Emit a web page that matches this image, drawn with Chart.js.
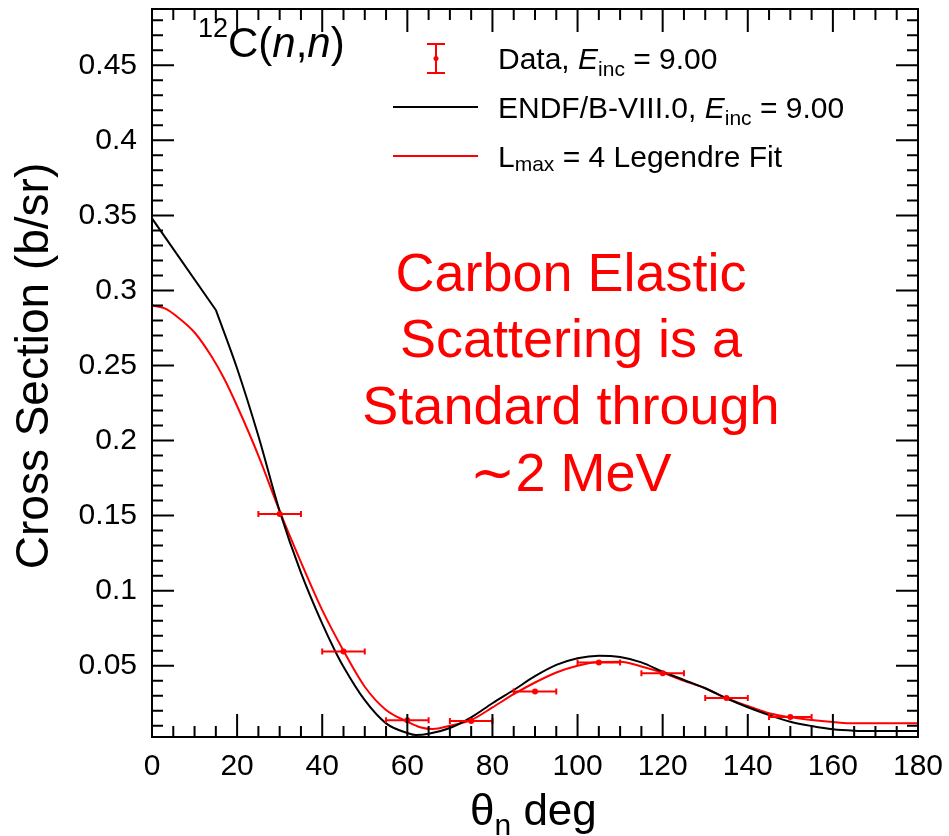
<!DOCTYPE html>
<html lang="en">
<head>
<meta charset="UTF-8">
<title>12C(n,n) at 9.00 MeV</title>
<script src="https://cdn.jsdelivr.net/npm/chart.js"></script>
<style>
  body { margin: 0; background: #fff; }
  #wrap { width: 949px; height: 836px; }
</style>
</head>
<body>
<div id="wrap"><canvas id="xsChart" width="949" height="836"></canvas></div>
<script>
// measured points
const dataAngle    = [30, 45, 60, 75, 90, 105, 120, 135, 150];
const dataXS       = [0.151, 0.0595, 0.0136, 0.0131, 0.0328, 0.0522, 0.0449, 0.0284, 0.0158];
const dataAngleErr = [5, 5, 5, 5, 5, 5, 5, 5, 5];
const dataXSErr    = [0.0008, 0.0008, 0.0008, 0.0008, 0.0008, 0.0008, 0.0008, 0.0008, 0.0008];

// ENDF/B-VIII.0 evaluation
const endfAngle = [0, 15, 20, 25, 30, 35, 40, 43, 45, 50, 55, 60, 62, 65, 70, 75, 80, 85, 90, 95, 100, 105, 110, 115, 120, 125, 130, 135, 140, 145, 150, 155, 160, 165, 170, 175, 180];
const endfXS    = [0.348, 0.287, 0.248, 0.203, 0.153, 0.112, 0.078, 0.060, 0.0493, 0.027, 0.0116, 0.0052, 0.0038, 0.0046, 0.0085, 0.0156, 0.025, 0.0338, 0.043, 0.0505, 0.055, 0.0567, 0.0558, 0.0522, 0.046, 0.0405, 0.035, 0.0283, 0.0223, 0.0171, 0.0127, 0.0098, 0.0076, 0.0067, 0.0065, 0.0065, 0.0065];

// Lmax = 4 Legendre fit
const fitAngle = [0, 3, 6, 10, 14, 17, 20, 25, 30, 35, 40, 45, 50, 55, 60, 63, 66, 70, 75, 80, 85, 90, 95, 100, 105, 110, 115, 120, 125, 130, 135, 140, 145, 150, 155, 160, 165, 170, 180];
const fitXS    = [0.290, 0.288, 0.2823, 0.272, 0.256, 0.241, 0.223, 0.190, 0.153, 0.119, 0.087, 0.060, 0.036, 0.0205, 0.0127, 0.009, 0.0078, 0.010, 0.0138, 0.0222, 0.031, 0.0388, 0.0455, 0.050, 0.0525, 0.0527, 0.0495, 0.0453, 0.040, 0.035, 0.0283, 0.0232, 0.0183, 0.0156, 0.0138, 0.0125, 0.0116, 0.0116, 0.0116];

const angleTicks = [0, 20, 40, 60, 80, 100, 120, 140, 160, 180];
const xsTicks    = [0.05, 0.1, 0.15, 0.2, 0.25, 0.3, 0.35, 0.4, 0.45];

const FONT = '"Liberation Sans", Arial, Helvetica, sans-serif';
const RED = '#ff0000';

function pts(xs, ys) {
  return xs.map((x, i) => ({ x: x, y: ys[i] }));
}

// draw a run of text pieces: [text, size, italic, dy]
function richText(ctx, x, y, parts, color) {
  ctx.fillStyle = color;
  ctx.textBaseline = 'alphabetic';
  ctx.textAlign = 'left';
  parts.forEach(p => {
    ctx.font = (p[2] ? 'italic ' : '') + p[1] + 'px ' + FONT;
    ctx.fillText(p[0], x, y + (p[3] || 0));
    x += ctx.measureText(p[0]).width;
  });
}

function noPad(s) {
  s.paddingLeft = 0; s.paddingRight = 0; s.paddingTop = 0; s.paddingBottom = 0;
}

const rootStyle = {
  id: 'rootStyle',
  afterDatasetsDraw(chart) {
    const ctx = chart.ctx, sx = chart.scales.x, sy = chart.scales.y;
    ctx.save();
    ctx.strokeStyle = RED;
    ctx.fillStyle = RED;
    ctx.lineWidth = 2;
    dataAngle.forEach((a, i) => {
      const px = sx.getPixelForValue(a);
      const py = sy.getPixelForValue(dataXS[i]);
      const x1 = sx.getPixelForValue(a - dataAngleErr[i]);
      const x2 = sx.getPixelForValue(a + dataAngleErr[i]);
      const y1 = sy.getPixelForValue(dataXS[i] - dataXSErr[i]);
      const y2 = sy.getPixelForValue(dataXS[i] + dataXSErr[i]);
      ctx.beginPath();
      ctx.moveTo(x1, py); ctx.lineTo(x2, py);
      ctx.moveTo(x1, py - 3); ctx.lineTo(x1, py + 3);
      ctx.moveTo(x2, py - 3); ctx.lineTo(x2, py + 3);
      ctx.moveTo(px, y1); ctx.lineTo(px, y2);
      ctx.stroke();
      ctx.beginPath();
      ctx.arc(px, py, 3, 0, Math.PI * 2);
      ctx.fill();
    });
    ctx.restore();
  },
  afterDraw(chart) {
    const ctx = chart.ctx, sx = chart.scales.x, sy = chart.scales.y;
    const a = chart.chartArea;
    ctx.save();
    ctx.strokeStyle = '#000';
    ctx.lineWidth = 2;
    ctx.strokeRect(a.left, a.top, a.right - a.left, a.bottom - a.top);

    // inward ticks on all four sides
    ctx.beginPath();
    for (let v = 0; v <= 180; v += 5) {
      const px = sx.getPixelForValue(v);
      const len = v % 20 === 0 ? 23 : 11;
      ctx.moveTo(px, a.bottom); ctx.lineTo(px, a.bottom - len);
      ctx.moveTo(px, a.top); ctx.lineTo(px, a.top + len);
    }
    for (let k = 1; k <= 48; k++) {
      const py = sy.getPixelForValue(k / 100);
      const len = k % 5 === 0 ? 22 : 11;
      ctx.moveTo(a.left, py); ctx.lineTo(a.left + len, py);
      ctx.moveTo(a.right, py); ctx.lineTo(a.right - len, py);
    }
    ctx.stroke();

    // axis titles
    ctx.save();
    ctx.translate(48, 366);
    ctx.rotate(-Math.PI / 2);
    ctx.font = '46px ' + FONT;
    ctx.fillStyle = '#000';
    ctx.textAlign = 'center';
    ctx.textBaseline = 'alphabetic';
    ctx.fillText('Cross Section (b/sr)', 0, 0);
    ctx.restore();
    richText(ctx, 470, 825, [['θ', 44], ['n', 30, false, 10], [' deg', 44]], '#000');

    // reaction label
    richText(ctx, 198, 37, [['12', 27]], '#000');
    richText(ctx, 228, 57, [['C(', 42], ['n', 42, true], [',', 42], ['n', 42, true], [')', 42]], '#000');

    // legend
    ctx.strokeStyle = RED;
    ctx.fillStyle = RED;
    ctx.lineWidth = 2;
    ctx.beginPath();
    ctx.moveTo(436, 44); ctx.lineTo(436, 73);
    ctx.moveTo(427, 44); ctx.lineTo(445, 44);
    ctx.moveTo(427, 73); ctx.lineTo(445, 73);
    ctx.stroke();
    ctx.beginPath();
    ctx.arc(436, 58.5, 2.5, 0, Math.PI * 2);
    ctx.fill();
    ctx.strokeStyle = '#000';
    ctx.beginPath();
    ctx.moveTo(393, 107); ctx.lineTo(478, 107);
    ctx.stroke();
    ctx.strokeStyle = RED;
    ctx.beginPath();
    ctx.moveTo(393, 156); ctx.lineTo(478, 156);
    ctx.stroke();
    richText(ctx, 498, 69, [['Data, ', 30], ['E', 30, true], ['inc', 21, false, 7], [' = 9.00', 30]], '#000');
    richText(ctx, 498, 118, [['ENDF/B-VIII.0, ', 30], ['E', 30, true], ['inc', 21, false, 7], [' = 9.00', 30]], '#000');
    richText(ctx, 498, 167, [['L', 30], ['max', 21, false, 4], [' = 4 Legendre Fit', 30]], '#000');

    // annotation
    ctx.fillStyle = RED;
    ctx.font = '54px ' + FONT;
    ctx.textAlign = 'center';
    ctx.textBaseline = 'alphabetic';
    ctx.fillText('Carbon Elastic', 571, 291);
    ctx.fillText('Scattering is a', 571, 357);
    ctx.fillText('Standard through', 571, 424);
    ctx.fillText('\u223C2 MeV', 571, 491);
    ctx.restore();
  }
};

const ctx = document.getElementById('xsChart').getContext('2d');
new Chart(ctx, {
  type: 'scatter',
  data: {
    datasets: [
      {
        label: 'ENDF/B-VIII.0',
        data: pts(endfAngle.slice(0, 2), endfXS.slice(0, 2)),
        showLine: true, borderColor: '#000', borderWidth: 2, pointRadius: 0, tension: 0
      },
      {
        label: 'ENDF/B-VIII.0 (cont.)',
        data: pts(endfAngle.slice(1), endfXS.slice(1)),
        showLine: true, borderColor: '#000', borderWidth: 2, pointRadius: 0,
        cubicInterpolationMode: 'monotone'
      },
      {
        label: 'Lmax = 4 Legendre Fit',
        data: pts(fitAngle, fitXS),
        showLine: true, borderColor: RED, borderWidth: 2, pointRadius: 0,
        cubicInterpolationMode: 'monotone'
      }
    ]
  },
  options: {
    responsive: false,
    animation: false,
    layout: { padding: { top: 9, right: 31, left: 0, bottom: 0 } },
    plugins: { legend: { display: false }, tooltip: { enabled: false } },
    scales: {
      x: {
        type: 'linear', min: 0, max: 180,
        grid: { display: false, drawTicks: false },
        border: { display: false },
        afterBuildTicks: s => { s.ticks = angleTicks.map(v => ({ value: v })); },
        afterFit: s => { s.height = 99; noPad(s); },
        ticks: { font: { family: FONT, size: 30 }, color: '#000', padding: 12, maxRotation: 0, autoSkip: false }
      },
      y: {
        type: 'linear', min: 0.0025, max: 0.4875,
        grid: { display: false, drawTicks: false },
        border: { display: false },
        afterBuildTicks: s => { s.ticks = xsTicks.map(v => ({ value: v })); },
        afterFit: s => { s.width = 152; noPad(s); },
        ticks: {
          font: { family: FONT, size: 30 }, color: '#000', padding: 15, autoSkip: false,
          callback: v => String(+v.toFixed(2))
        }
      }
    }
  },
  plugins: [rootStyle]
});
</script>
</body>
</html>
